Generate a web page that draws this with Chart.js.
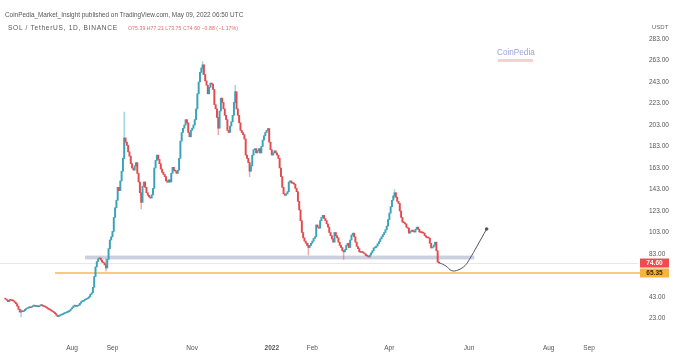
<!DOCTYPE html>
<html><head><meta charset="utf-8">
<script src="https://cdn.jsdelivr.net/npm/chart.js@4.4.0/dist/chart.umd.min.js"></script>
<style>
html,body{margin:0;padding:0;background:#fff;width:674px;height:357px;overflow:hidden;font-family:"Liberation Sans",Arial,sans-serif}
#wrap{position:relative;width:674px;height:357px}
canvas{position:absolute;left:0;top:0}
.t{position:absolute;white-space:nowrap;color:#555;font-size:6px;line-height:8px}
.v{color:#e06a6a}
</style></head><body>
<div id="wrap">
<canvas id="c" width="674" height="357"></canvas>
<div class="t" style="left:5px;top:11px;font-size:6.4px">CoinPedia_Market_Insight published on TradingView.com, May 09, 2022 06:50 UTC</div>
<div class="t" style="left:8px;top:24px;font-size:6.6px;letter-spacing:0.7px">SOL / TetherUS, 1D, BINANCE</div>
<div class="t v" style="left:128px;top:24px;font-size:5.2px;letter-spacing:0.05px">O75.39 H77.21 L73.75 C74.60 −0.88 (−1.17%)</div>
<div class="t" style="left:652px;top:23px;font-size:6px;color:#666">USDT</div>
<div class="t" style="left:497px;top:48px;font-size:8.2px;line-height:10px;color:#9ca2dc">CoinPedia</div>
<div style="position:absolute;left:498px;top:59px;width:35px;height:3px;background:#f7d0d4"></div>
</div>
<script>
// ---- data (days counted from 2021-08-01) ----
const firstDay = -51;
const firstOpen = 41.5;
const closes = [
 41, 40, 38.6, 40.4, 40, 39.5, 39.3, 38, 36.7, 34.5,
 31.5, 29, 29.5, 29.3, 30.2, 31.5, 32.2, 32.8, 33.4, 33,
 34, 34.6, 34.9, 34.2, 34.5, 33.9, 34.8, 35.8, 35, 34.2,
 33.9, 33.2, 32.5, 31.5, 31, 30.2, 29.4, 28.6, 27.5, 26,
 24.8, 25.5, 26.2, 26.5, 27.3, 27.8, 28.4, 28.8, 29.3, 30.5,
 31.8, 33, 34.6, 34.9, 34.2, 34.8, 35.5, 37.2, 38.6, 39,
 40, 40.6, 41.3, 42, 43.2, 45.5, 46.9, 52, 62, 71,
 76, 78.5, 79.3, 77.4, 75.5, 74.7, 72.8, 70, 78, 88,
 96, 99, 104, 117, 126, 133, 145, 142, 151, 160,
 172, 191, 187, 184, 178, 174, 167, 163, 161, 165,
 168, 158, 150, 140, 131, 146, 150, 145, 140, 137.6,
 136, 135, 138, 144, 163, 170, 175, 171, 167, 162,
 159, 157, 155, 151, 149.7, 152, 150, 158, 163.6, 160.8,
 160, 158, 161, 172, 188, 196, 200, 203, 208, 205,
 196, 192, 198, 200, 203, 208, 218, 232, 243, 252,
 256, 259, 250, 244, 240, 232, 238, 242, 241, 236,
 222, 218, 210, 200, 216, 228, 224, 218, 212, 208,
 198, 196, 202, 206, 212, 224, 234, 218, 212, 205,
 198, 196, 194, 190, 175, 172, 168, 160, 165, 175,
 180, 181, 177, 179, 181, 177, 183, 189, 193, 196,
 198, 199.7, 187, 180, 175, 177, 179, 177, 175, 172,
 163, 155, 145, 139, 137.6, 139, 141, 150, 151, 149,
 148.7, 148, 144, 141, 132, 124, 114, 103, 98, 95,
 93, 91, 89, 91, 93, 95, 97.5, 99, 110, 108,
 107, 114, 117, 119, 116, 114, 111, 108, 103, 100,
 97, 94, 103, 100, 98, 94, 91, 89, 86, 85,
 87, 91, 93, 89, 96, 100.6, 102.4, 99, 94, 90,
 88, 85, 84.5, 85, 84, 83, 81.5, 81, 80.2, 82,
 84, 86, 88.6, 89, 90.4, 92.5, 94.5, 97, 99, 101,
 103, 105.5, 109, 115, 121, 127, 133, 137, 140, 135.8,
 132, 130, 123, 117, 112.6, 112, 111, 108, 107, 102.4,
 104, 105.2, 104, 103.4, 106, 108, 106, 103.4, 103, 102.6,
 102.4, 100, 98.7, 98, 97.8, 93, 88.6, 89.5, 91.3, 94,
 86, 75.39, 74.6
];
// visible wicks: [day, low, high]
const wicks = [
 [-39, 24.5, 31.5], [26, 67, 78.5], [40, 172, 215], [53, 125, 140],
 [100, 250, 262], [112, 194, 210], [125, 224, 240], [136, 155, 168],
 [181, 82, 93], [208, 78, 86], [247, 135, 143]
];
const monthTicks = [0, 31, 92, 153, 184, 243, 304, 365, 396];
const monthLabels = ['Aug', 'Sep', 'Nov', '2022', 'Feb', 'Apr', 'Jun', 'Aug', 'Sep'];
const priceTicks = [23, 43, 63, 83, 103, 123, 143, 163, 183, 203, 223, 243, 263, 283];
const lastPrice = 74.60;
const supportLevel = 65.35;
const zoneLow = 78, zoneHigh = 81.5, zoneStartDay = 10, zoneEndDay = 308;
const levelStartDay = -13;
const projDays = [281, 286.4, 290.7, 295.6, 301, 304.8, 309.9, 317.5];
const projPrices = [75, 71.8, 67.5, 68.1, 72.3, 79, 89.8, 106.3];

// ---- build ----
const UP = '#38a2b8', DOWN = '#e34a4e';
const bodies = [], bodyColors = [], dirByDay = {};
closes.forEach((c, i) => {
  const o = i === 0 ? firstOpen : closes[i - 1];
  const d = firstDay + i;
  bodies.push({x: d, y: [o, c]});
  const col = c >= o ? UP : DOWN;
  bodyColors.push(col);
  dirByDay[d] = col;
});
const wickData = wicks.map(w => ({x: w[0], y: [w[1], w[2]]}));
const wickColors = wicks.map(w => (dirByDay[w[0]] || DOWN) + '77');
const proj = projDays.map((d, i) => ({x: d, y: projPrices[i]}));

const overlay = {
  id: 'overlay',
  beforeDatasetsDraw(chart) {
    const {ctx, chartArea: a, scales: {x, y}} = chart;
    ctx.save();
    const yl = Math.round(y.getPixelForValue(lastPrice)) + 0.5;
    ctx.strokeStyle = 'rgba(226,90,90,0.18)'; ctx.lineWidth = 1;
    ctx.beginPath(); ctx.moveTo(a.left, yl); ctx.lineTo(a.right, yl); ctx.stroke();
    const x0 = x.getPixelForValue(zoneStartDay), x1 = x.getPixelForValue(zoneEndDay);
    const y0 = y.getPixelForValue(zoneHigh), y1 = y.getPixelForValue(zoneLow);
    ctx.fillStyle = 'rgba(160,168,194,0.55)';
    ctx.fillRect(x0, y0, x1 - x0, y1 - y0);
    const ys = y.getPixelForValue(supportLevel);
    ctx.strokeStyle = '#f6b94f'; ctx.lineWidth = 1.5;
    ctx.beginPath(); ctx.moveTo(x.getPixelForValue(levelStartDay), ys); ctx.lineTo(a.right + 2, ys); ctx.stroke();
    ctx.restore();
  },
  afterDraw(chart) {
    const {ctx, chartArea: a, scales: {y}} = chart;
    ctx.save();
    ctx.font = 'bold 6.5px "Liberation Sans", Arial, sans-serif';
    ctx.textAlign = 'center'; ctx.textBaseline = 'middle';
    [[lastPrice, '#ef4b50', '#ffffff'], [supportLevel, '#f7b33b', '#3a2a00']].forEach(([p, bg, fg]) => {
      const yc = y.getPixelForValue(p);
      ctx.fillStyle = bg; ctx.fillRect(a.right + 2, yc - 4.5, 29, 9);
      ctx.fillStyle = fg; ctx.fillText(p.toFixed(2), a.right + 16.5, yc + 0.5);
    });
    ctx.restore();
  }
};

new Chart(document.getElementById('c'), {
  type: 'bar',
  data: {
    datasets: [
      {type: 'line', data: proj, borderColor: '#4d5260', borderWidth: 1, tension: 0.4,
       pointRadius: projDays.map((d, i) => i === projDays.length - 1 ? 1.3 : 0),
       pointHoverRadius: 0, pointBackgroundColor: '#4d5260', order: 0},
      {data: bodies, backgroundColor: bodyColors, barThickness: 1.3, minBarLength: 1, grouped: false, order: 1},
      {data: wickData, backgroundColor: wickColors, barThickness: 0.8, grouped: false, order: 2}
    ]
  },
  options: {
    responsive: false, animation: false, devicePixelRatio: 1, events: [],
    layout: {autoPadding: false, padding: {top: 20, left: 0, right: 0, bottom: 0}},
    plugins: {legend: {display: false}, tooltip: {enabled: false}},
    scales: {
      x: {
        type: 'linear', offset: false, min: -55.13, max: 433.4,
        grid: {display: false, drawTicks: false}, border: {display: false},
        afterBuildTicks: s => { s.ticks = monthTicks.map(v => ({value: v})); },
        afterFit: s => { s.height = 19; s.paddingLeft = 0; s.paddingRight = 0; },
        ticks: {
          autoSkip: false, maxRotation: 0, padding: 6, color: '#555',
          font: c => ({size: 6.5, family: '"Liberation Sans", Arial, sans-serif',
                       weight: (c.tick && c.tick.value === 153) ? 'bold' : 'normal'}),
          callback: (v, i) => monthLabels[i]
        }
      },
      y: {
        position: 'right', min: 4.86, max: 300.67,
        grid: {display: false, drawTicks: false}, border: {display: false},
        afterBuildTicks: s => { s.ticks = priceTicks.map(v => ({value: v})); },
        afterFit: s => { s.width = 36; s.paddingTop = 0; s.paddingBottom = 0; },
        ticks: {padding: 11, color: '#555', font: {size: 6.5, family: '"Liberation Sans", Arial, sans-serif'},
                callback: v => Number(v).toFixed(2)}
      }
    }
  },
  plugins: [overlay]
});
</script>
</body></html>
